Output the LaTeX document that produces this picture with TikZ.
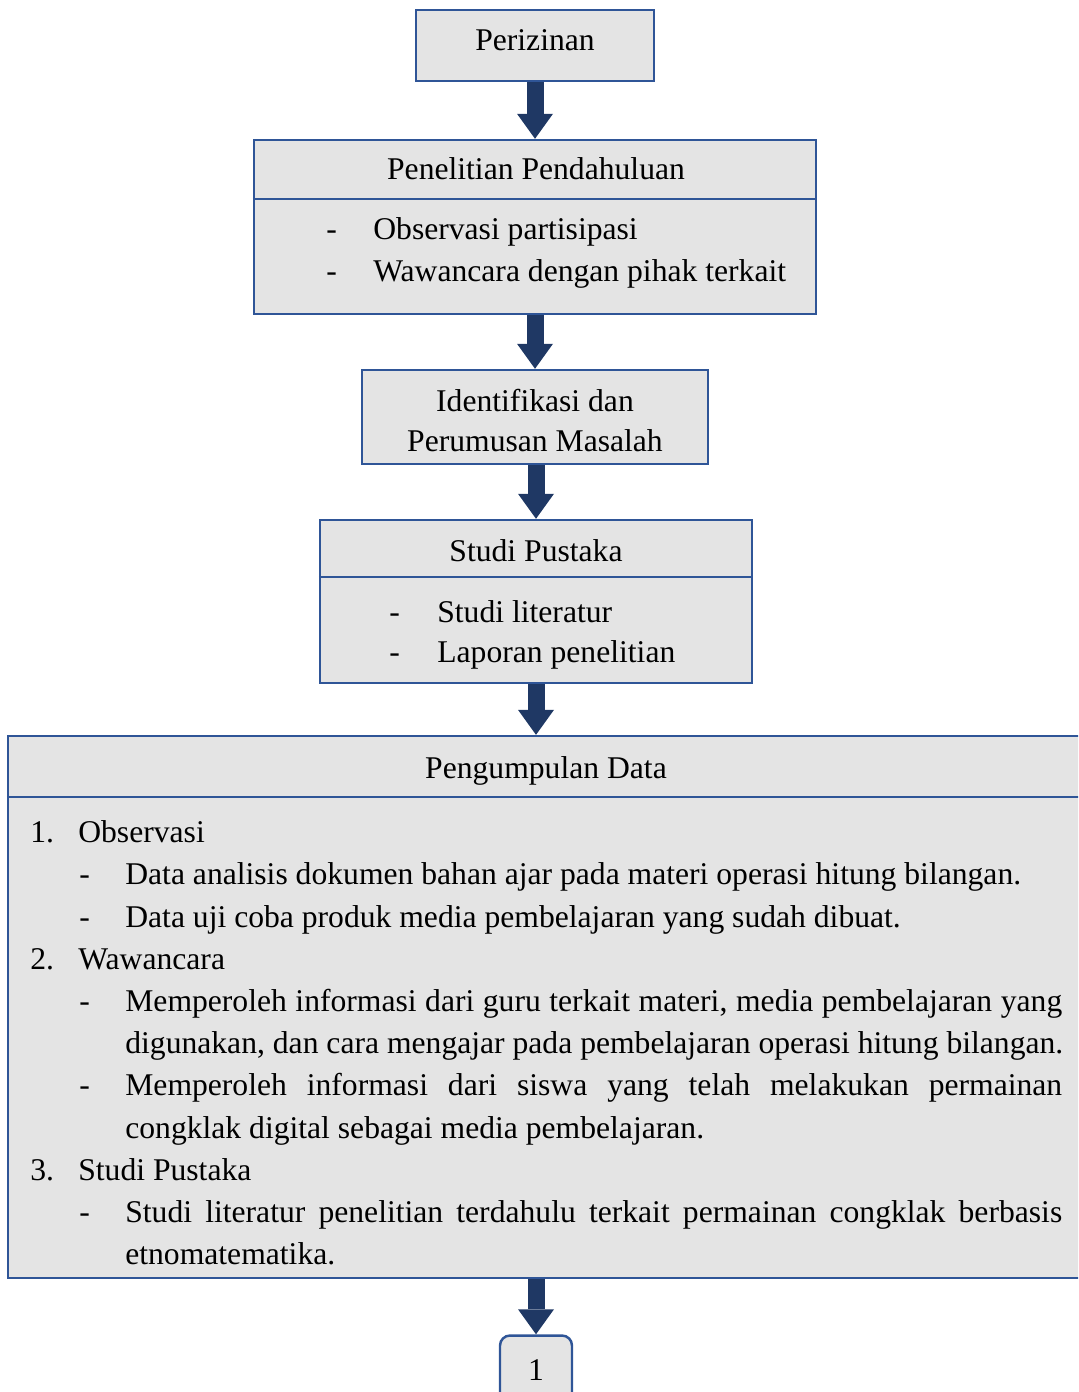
\documentclass[tikz,border=0pt]{standalone}
\usepackage{fontspec}
\setmainfont{Liberation Serif}
\usetikzlibrary{arrows.meta}
\definecolor{boxline}{RGB}{47,85,151}
\definecolor{boxfill}{RGB}{228,228,228}
\definecolor{arrowfill}{RGB}{31,56,100}
\tikzset{
  box/.style={draw=boxline, fill=boxfill, line width=1.4pt, inner sep=0pt},
  txt/.style={font=\fontsize{18}{24}\selectfont, inner sep=0pt, anchor=base, yshift=-0.04cm},
  txtleft/.style={txt, anchor=base west},
  divider/.style={draw=boxline, line width=0.8pt},
  flow/.style={draw=arrowfill, line width=0.34cm, -{Triangle[width=0.72cm,length=0.5cm,line width=0pt]}}
}
\begin{document}
\begin{tikzpicture}[x=0.02cm, y=-0.02cm]
\clip (0,0) rectangle (1078,1392);
\node[box, minimum width=4.76cm, minimum height=1.42cm] (izin) at (535,45.5) {};
\node[txt] (izin-t) at (535,49) {Perizinan};
\node[box, minimum width=11.24cm, minimum height=3.48cm] (pen) at (535,227) {};
\node[txt] (pen-t) at (536,178) {Penelitian Pendahuluan};
\draw[divider] (pen.west |- 0,199) -- (pen.east |- 0,199);
\node[txtleft] (pen-d1) at (326,238) {-};
\node[txtleft] (pen-a) at (373,238) {Observasi partisipasi};
\node[txtleft] (pen-d2) at (326,280) {-};
\node[txtleft] (pen-b) at (373,280) {Wawancara dengan pihak terkait};
\node[box, minimum width=6.92cm, minimum height=1.88cm] (idf) at (535,417) {};
\node[txt] (idf-a) at (535,409) {Identifikasi dan};
\node[txt] (idf-b) at (535,449) {Perumusan Masalah};
\node[box, minimum width=8.64cm, minimum height=3.26cm] (pus) at (536,601.5) {};
\node[txt] (pus-t) at (536,559) {Studi Pustaka};
\draw[divider] (pus.west |- 0,577) -- (pus.east |- 0,577);
\node[txtleft] (pus-d1) at (389,620) {-};
\node[txtleft] (pus-a) at (437,620) {Studi literatur};
\node[txtleft] (pus-d2) at (389,660) {-};
\node[txtleft] (pus-b) at (437,660) {Laporan penelitian};
\node[box, minimum width=21.54cm, minimum height=10.84cm] (data) at (546.5,1007) {};
\node[txt] (data-t) at (546,776) {Pengumpulan Data};
\draw[divider] (data.west |- 0,797) -- (data.east |- 0,797);
\node[txtleft] (data-n1) at (30,840) {1.};
\node[txtleft] (data-1) at (78,840) {Observasi};
\node[txtleft] (data-d1) at (79,882) {-};
\node[txtleft] (data-1a) at (125,882) {Data analisis dokumen bahan ajar pada materi operasi hitung bilangan.};
\node[txtleft] (data-d2) at (79,925) {-};
\node[txtleft] (data-1b) at (125,925) {Data uji coba produk media pembelajaran yang sudah dibuat.};
\node[txtleft] (data-n2) at (30,967) {2.};
\node[txtleft] (data-2) at (78,967) {Wawancara};
\node[txtleft] (data-d3) at (79,1009) {-};
\node[txtleft] (data-2a) at (125,1009) {\makebox[18.74cm][s]{Memperoleh informasi dari guru terkait materi, media pembelajaran yang}};
\node[txtleft] (data-2a2) at (125,1051) {digunakan, dan cara mengajar pada pembelajaran operasi hitung bilangan.};
\node[txtleft] (data-d4) at (79,1093) {-};
\node[txtleft] (data-2b) at (125,1093) {\makebox[18.74cm][s]{Memperoleh informasi dari siswa yang telah melakukan permainan}};
\node[txtleft] (data-2b2) at (125,1136) {congklak digital sebagai media pembelajaran.};
\node[txtleft] (data-n3) at (30,1178) {3.};
\node[txtleft] (data-3) at (78,1178) {Studi Pustaka};
\node[txtleft] (data-d5) at (79,1220) {-};
\node[txtleft] (data-3a) at (125,1220) {\makebox[18.74cm][s]{Studi literatur penelitian terdahulu terkait permainan congklak berbasis}};
\node[txtleft] (data-3a2) at (125,1262) {etnomatematika.};
\node[box, rounded corners=0.2cm, minimum width=1.44cm, minimum height=1.5cm] (one) at (536,1373) {};
\node[txt] (one-t) at (536,1378) {1};
\draw[flow] (pen.north |- izin.south) -- (pen.north);
\draw[flow] (idf.north |- pen.south) -- (idf.north);
\draw[flow] (pus.north |- idf.south) -- (pus.north);
\draw[flow] (pus.south) -- (pus.south |- data.north);
\draw[flow] (one.north |- data.south) -- (one.north);
\end{tikzpicture}
\end{document}
